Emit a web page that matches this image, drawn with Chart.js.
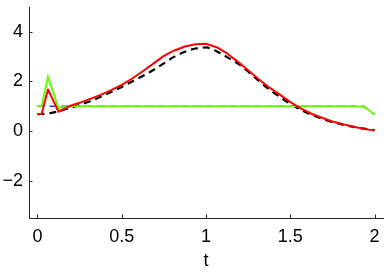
<!DOCTYPE html>
<html><head><meta charset="utf-8">
<script src="https://cdn.jsdelivr.net/npm/chart.js@4.4.0/dist/chart.umd.min.js"></script>
<style>html,body{margin:0;padding:0;background:#fff}</style>
</head><body>
<canvas id="c" width="390" height="272"></canvas>
<script>
const tValues = [0,0.025,0.0625,0.125,0.1875,0.25,0.3125,0.375,0.4375,0.5,0.5625,0.625,0.6875,0.75,0.8125,0.875,0.9375,1.0,1.0625,1.125,1.1875,1.25,1.3125,1.375,1.4375,1.5,1.5625,1.625,1.6875,1.75,1.8125,1.875,1.9375,2.0];
const trueState = [0.68,0.69,0.71,0.8,0.92,1.05,1.2,1.38,1.58,1.78,2.0,2.22,2.46,2.73,3.0,3.2,3.33,3.37,3.22,2.98,2.73,2.4,2.03,1.68,1.38,1.1,0.86,0.66,0.5,0.37,0.26,0.17,0.1,0.04];
const estimate = [0.69,0.69,1.68,0.78,1.0,1.14,1.3,1.46,1.65,1.86,2.12,2.41,2.72,3.03,3.25,3.41,3.5,3.52,3.38,3.13,2.8,2.45,2.09,1.76,1.47,1.17,0.92,0.7,0.54,0.39,0.28,0.18,0.09,0.02];
const paramTrue = [1,1,1,1,1,1,1,1,1,1,1,1,1,1,1,1,1,1,1,1,1,1,1,1,1,1,1,1,1,1,1,1,1,0.67];
const paramEst = [1,1,2.19,0.93,1,1,1,1,1,1,1,1,1,1,1,1,1,1,1,1,1,1,1,1,1,1,1,1,1,1,1,1,0.98,0.67];
const xTicks = [0,0.5,1,1.5,2];
const yTicks = [-2,0,2,4];

const pts = arr => tValues.map((t,i)=>({x:t,y:arr[i]}));
const FONT = {family:"'Liberation Sans', Arial, sans-serif", size:18};

const inwardTicks = {
  id:'inwardTicks',
  beforeDatasetsDraw(chart){
    const {ctx, scales:{x,y}} = chart;
    ctx.save();
    ctx.strokeStyle = '#262626';
    ctx.lineWidth = 1;
    ctx.beginPath();
    xTicks.forEach(v=>{const px=Math.round(x.getPixelForValue(v))+0.5; ctx.moveTo(px,y.bottom); ctx.lineTo(px,y.bottom-3.5);});
    yTicks.forEach(v=>{const py=Math.round(y.getPixelForValue(v))+0.5; ctx.moveTo(x.left,py); ctx.lineTo(x.left+3.5,py);});
    ctx.stroke();
    ctx.restore();
  }
};

new Chart(document.getElementById('c'), {
  type:'line',
  data:{datasets:[
    {data:pts(estimate), borderColor:'#ff0000', borderWidth:2, pointRadius:0, tension:0, borderJoinStyle:'round', fill:false},
    {data:pts(paramEst), borderColor:'#66ff00', borderWidth:2, pointRadius:0, tension:0, fill:false},
    {data:pts(paramTrue), borderColor:'#1f3fff', borderWidth:1.5, borderDash:[7,5], pointRadius:0, tension:0, fill:false},
    {data:pts(trueState), borderColor:'#000000', borderWidth:2.2, borderDash:[7,5], pointRadius:0, cubicInterpolationMode:'monotone', fill:false}
  ]},
  plugins:[inwardTicks],
  options:{
    responsive:false, animation:false,
    layout:{padding:{left:0,right:7,top:7,bottom:0}},
    plugins:{legend:{display:false}, tooltip:{enabled:false}},
    scales:{
      x:{type:'linear', min:-0.05, max:2.05,
        afterBuildTicks:s=>{s.ticks=xTicks.map(v=>({value:v}));},
        afterFit:s=>{s.height=54; s.paddingLeft=0; s.paddingRight=0; s.paddingTop=0; s.paddingBottom=0;},
        grid:{display:false, drawTicks:false},
        border:{display:true, color:'#262626', width:1},
        ticks:{color:'#000', font:FONT, padding:8, maxRotation:0, autoSkip:false, callback:v=>String(v)},
        title:{display:true, text:'t', color:'#000', font:FONT, padding:{top:0,bottom:0}}
      },
      y:{type:'linear', min:-3.5, max:5,
        afterBuildTicks:s=>{s.ticks=yTicks.map(v=>({value:v}));},
        afterFit:s=>{s.width=29; s.paddingTop=0; s.paddingBottom=0; s.paddingLeft=0; s.paddingRight=0;},
        grid:{display:false, drawTicks:false},
        border:{display:true, color:'#262626', width:1},
        ticks:{color:'#000', font:FONT, padding:6, autoSkip:false, callback:v=>String(v).replace('-','\u2212')}
      }
    }
  }
});
</script>
</body></html>
